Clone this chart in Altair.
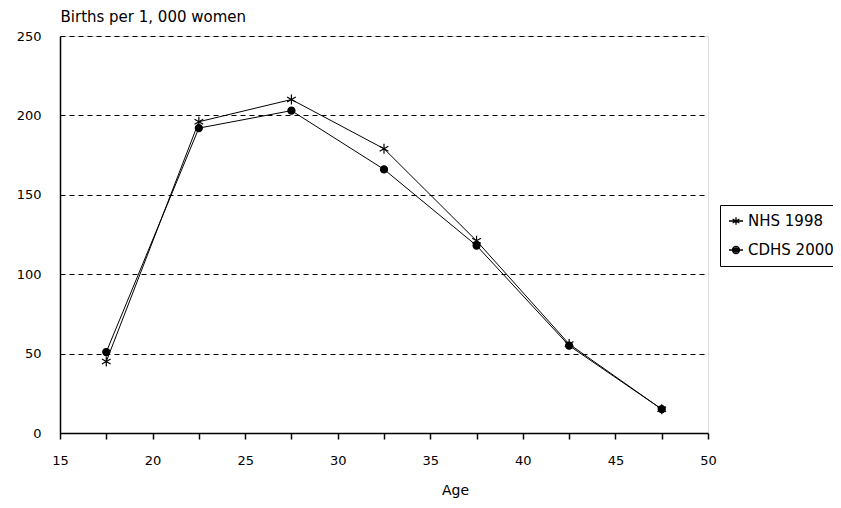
import altair as alt
import pandas as pd

ages = [17.5, 22.5, 27.5, 32.5, 37.5, 42.5, 47.5]
nhs_1998 = [45, 196, 210, 179, 121, 56, 15]
cdhs_2000 = [51, 192, 203, 166, 118, 55, 15]
series_names = ["NHS 1998", "CDHS 2000"]
x_ticks = [15, 17.5, 20, 22.5, 25, 27.5, 30, 32.5, 35, 37.5, 40, 42.5, 45, 47.5, 50]
y_ticks = [0, 50, 100, 150, 200, 250]

rows = []
for a, v in zip(ages, nhs_1998):
    rows.append({"Age": a, "Rate": v, "Survey": series_names[0]})
for a, v in zip(ages, cdhs_2000):
    rows.append({"Age": a, "Rate": v, "Survey": series_names[1]})
df = pd.DataFrame(rows)

FONT = "DejaVu Sans"
ASTER = "M0,-1L0,1M-0.87,-0.5L0.87,0.5M-0.87,0.5L0.87,-0.5"
ASTER_LEG = "M0,-0.55L0,0.55M-0.48,-0.28L0.48,0.28M-0.48,0.28L0.48,-0.28M-1,0L1,0"
CIRC_LEG = ("M-1,0L1,0"
            "M-0.3,-0.4L0.3,-0.4M-0.46,-0.2L0.46,-0.2"
            "M-0.3,0.4L0.3,0.4M-0.46,0.2L0.46,0.2"
            "M-0.5,0A0.5,0.5 0 1,0 0.5,0A0.5,0.5 0 1,0 -0.5,0")

x = alt.X("Age:Q",
          scale=alt.Scale(domain=[15, 50], nice=False, zero=False),
          axis=alt.Axis(values=x_ticks, grid=False, labelFlush=False,
                        labelExpr="datum.value % 5 == 0 ? datum.label : ''",
                        tickColor="black", tickSize=6, tickWidth=1.5,
                        domainColor="black", domainWidth=1.5,
                        labelFont=FONT, labelFontSize=13, labelColor="black",
                        labelPadding=15,
                        title="Age", titleFont=FONT, titleFontSize=14,
                        titleFontWeight="normal", titleColor="black",
                        titleX=395, titleY=57, titleAnchor="start",
                        titleAlign="center", titleBaseline="middle"))
y = alt.Y("Rate:Q",
          scale=alt.Scale(domain=[0, 250], nice=False),
          axis=alt.Axis(values=y_ticks, grid=True, gridColor="black",
                        gridDash=[5, 4], gridWidth=1, ticks=False,
                        labelFlush=False,
                        domainColor="black", domainWidth=1.5,
                        labelFont=FONT, labelFontSize=13, labelColor="black",
                        labelPadding=19,
                        title="Births per 1, 000 women", titleFont=FONT,
                        titleFontSize=15, titleFontWeight="normal",
                        titleColor="black", titleAngle=0, titleAlign="left",
                        titleBaseline="bottom", titleX=0, titleY=-12))

base = alt.Chart(df)

lines = base.mark_line(color="black", strokeWidth=1).encode(
    x=x, y=y, detail="Survey:N")

points = base.mark_point(fill="black", stroke="black", strokeWidth=1.2,
                         opacity=1).encode(
    x=x, y=y,
    shape=alt.Shape("Survey:N",
                    scale=alt.Scale(domain=series_names, range=[ASTER, "circle"]),
                    legend=None),
    size=alt.Size("Survey:N",
                  scale=alt.Scale(domain=series_names, range=[100, 50]),
                  legend=None))

legend_layer = base.transform_filter("datum.Rate < 0").mark_point(
    filled=False, color="black", strokeWidth=1.3, opacity=1, size=196).encode(
    x=x, y=y,
    shape=alt.Shape("Survey:N",
                    scale=alt.Scale(domain=series_names, range=[ASTER_LEG, CIRC_LEG]),
                    legend=alt.Legend(
                        title=None, orient="none", legendX=660, legendY=169,
                        strokeColor="black", padding=8,
                        labelFont=FONT, labelFontSize=15, labelColor="black",
                        rowPadding=13, symbolSize=196, symbolStrokeWidth=1.3,
                        symbolStrokeColor="black",
                        symbolOpacity=1, labelOffset=4)))

chart = (lines + points + legend_layer).resolve_scale(
    shape="independent", size="independent").properties(
    width=648, height=397,
    autosize=alt.AutoSizeParams(type="none"),
    padding={"left": 52, "top": 28, "right": 125, "bottom": 67},
).configure_view(stroke="black", strokeWidth=1.5).configure(background="white")

chart.save("out.html", embed_options={"renderer": "svg", "actions": False})
